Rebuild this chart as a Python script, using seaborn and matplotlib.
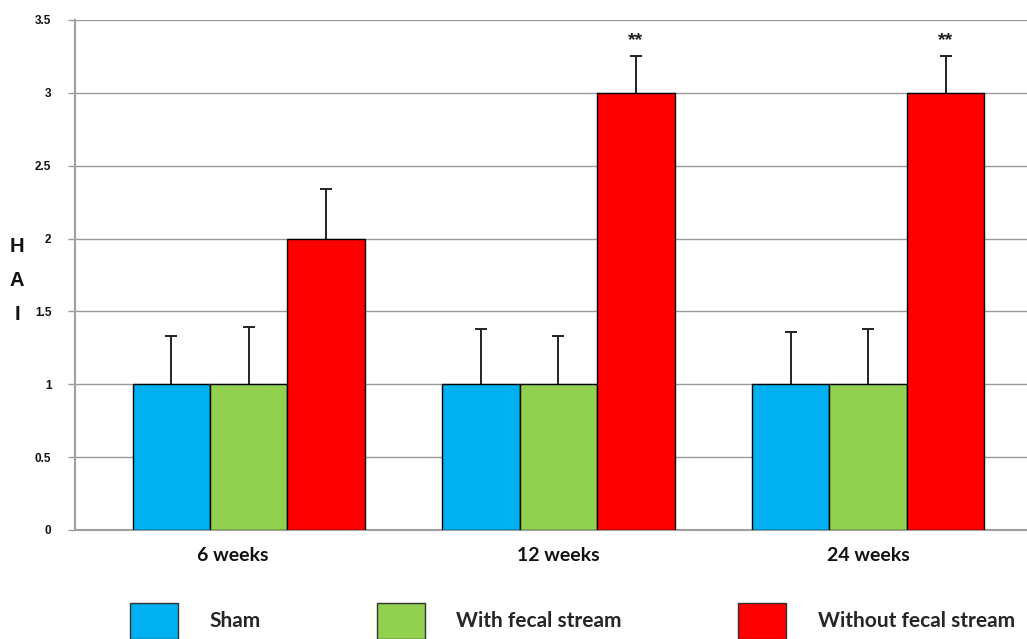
import matplotlib
matplotlib.use("Agg")
import matplotlib.pyplot as plt
import matplotlib.transforms as mtransforms
from matplotlib.patches import Patch
import seaborn as sns
import pandas as pd

# Data: HAI score by time point and group (mean + upper SD)
weeks = ["6 weeks", "12 weeks", "24 weeks"]
groups = ["Sham", "With fecal stream", "Without fecal stream"]
sham = [1.0, 1.0, 1.0]
with_stream = [1.0, 1.0, 1.0]
without_stream = [2.0, 3.0, 3.0]
sham_err = [0.33, 0.38, 0.36]
with_err = [0.39, 0.33, 0.38]
without_err = [0.34, 0.25, 0.25]
significance = ["", "**", "**"]
y_ticks = [0, 0.5, 1, 1.5, 2, 2.5, 3, 3.5]
y_tick_labels = ["0", "0.5", "1", "1.5", "2", "2.5", "3", "3.5"]

colors = ["#00B0F0", "#92D050", "#FF0000"]

means = [sham, with_stream, without_stream]
errs = [sham_err, with_err, without_err]
df = pd.DataFrame({
    "week": [w for _ in groups for w in weeks],
    "group": [g for g in groups for _ in weeks],
    "hai": [v for series in means for v in series],
})

sns.set_style("white")
plt.rcParams["font.family"] = ["Liberation Sans", "DejaVu Sans"]

fig = plt.figure(figsize=(10.27, 6.39), dpi=100)
ax = fig.add_axes([75 / 1027, 1 - 530 / 639, 1 - 75 / 1027, (530 - 20) / 639])

sns.barplot(data=df, x="week", y="hai", hue="group", order=weeks,
            hue_order=groups, palette=colors, saturation=1, width=0.75,
            errorbar=None, edgecolor="black", linewidth=1.0, legend=False,
            ax=ax, zorder=3)

# one-sided (upper) error bars at each bar's centre, cap only at the top
for container, err in zip(ax.containers, errs):
    xs = [b.get_x() + b.get_width() / 2 for b in container]
    ys = [b.get_height() for b in container]
    eb = ax.errorbar(xs, ys, yerr=[[0] * len(err), err], fmt="none",
                     ecolor="#222222", elinewidth=1.4, capsize=4, capthick=1.4,
                     zorder=2)
    eb[1][0].set_visible(False)

# significance markers above the "without fecal stream" bars
for bar, err, mark in zip(ax.containers[2], without_err, significance):
    if mark:
        ax.text(bar.get_x() + bar.get_width() / 2, bar.get_height() + err + 0.05,
                mark, ha="center", va="bottom", fontsize=14, fontweight="bold",
                color="#222222")

ax.set_xlim(-0.561, 2.513)
ax.set_ylim(0, 3.5)
ax.set_yticks(y_ticks)
ax.set_yticklabels(y_tick_labels, fontsize=8.5, fontweight="bold", color="#111111")
ax.yaxis.grid(True, color="#9a9a9a", linewidth=1.0, zorder=0)
ax.set_axisbelow(True)
ax.tick_params(axis="y", which="major", left=True, length=5, width=1.0,
               color="#9a9a9a", pad=12)
ax.tick_params(axis="x", length=0, pad=12)
for i, lbl in enumerate(ax.get_xticklabels()):
    lbl.set_fontsize(14)
    lbl.set_fontweight("bold")
    lbl.set_family(["Lato", "DejaVu Sans"])
    lbl.set_color("#111111")
    if i == 0:
        lbl.set_transform(lbl.get_transform() + mtransforms.ScaledTranslation(
            -16 / 100, 0, fig.dpi_scale_trans))
ax.set_xlabel("")
ax.set_ylabel("")
for side in ["top", "right"]:
    ax.spines[side].set_visible(False)
for side in ["left", "bottom"]:
    ax.spines[side].set_color("#a0a0a0")
    ax.spines[side].set_linewidth(1.5)

fig.text(17 / 1027, 1 - 280 / 639, "H\nA\nI", ha="center", va="center",
         fontsize=14.5, fontweight="bold", linespacing=2.0, color="#111111")

handles = [Patch(facecolor=c, edgecolor="#333333", linewidth=1.0) for c in colors]
fig.legend(handles, groups, loc="center left",
           bbox_to_anchor=(130 / 1027, 1 - 621 / 639), ncol=3, frameon=False,
           borderpad=0, borderaxespad=0, handlelength=2.3, handleheight=2.3,
           handletextpad=1.5, columnspacing=5.6,
           prop={"family": ["Lato", "DejaVu Sans"], "weight": "bold", "size": 15})

fig.savefig("out.png", dpi=100)
